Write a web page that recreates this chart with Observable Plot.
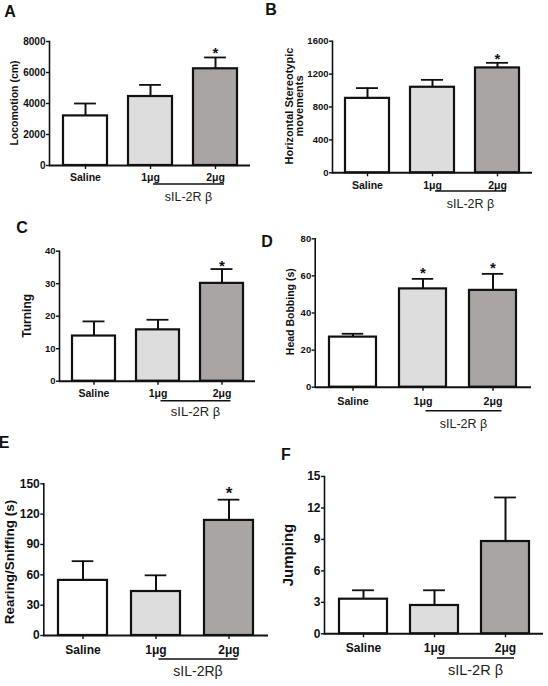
<!DOCTYPE html>
<html><head><meta charset="utf-8">
<script src="https://cdn.jsdelivr.net/npm/d3@7"></script>
<script src="https://cdn.jsdelivr.net/npm/@observablehq/plot@0.6"></script>
<style>
html,body{margin:0;padding:0;background:#fff;}
#fig{position:relative;width:548px;height:686px;overflow:hidden;background:#fff;}
</style></head><body><div id="fig"></div>
<script>
// ---- data ----
const groups = ["Saline", "1μg", "2μg"];
const groupFills = ["#ffffff", "#dddddd", "#aaa5a5"];
const panelLetters = ["A", "B", "C", "D", "E", "F"];
const yTitles = [["Locomotion (cm)"], ["Horizontal Stereotypic", "movements"], ["Turning"], ["Head Bobbing (s)"], ["Rearing/Sniffing (s)"], ["Jumping"]];
const treatmentLabels = ["sIL-2R β", "sIL-2R β", "sIL-2R β", "sIL-2R β", "sIL-2Rβ", "sIL-2R β"];

const locomotion = [3200, 4450, 6240];
const locomotionSem = [800, 750, 730];
const stereotypic = [905, 1040, 1275];
const stereotypicSem = [125, 90, 62];
const turning = [13.9, 15.8, 30.1];
const turningSem = [4.5, 3.1, 4.4];
const headBobbing = [27, 53, 52.2];
const headBobbingSem = [1.8, 5.4, 8.9];
const rearing = [54.5, 43.5, 113.8];
const rearingSem = [19, 16, 20.5];
const jumping = [3.3, 2.7, 8.8];
const jumpingSem = [0.85, 1.45, 4.2];

const starsA = [false, false, true];
const starsB = [false, false, true];
const starsC = [false, false, true];
const starsD = [false, true, true];
const starsE = [false, false, true];
const starsF = [false, false, false];

const yMaxes = [8000, 1600, 40, 80, 150, 15];
const yTicksA = [0, 2000, 4000, 6000, 8000];
const yTicksB = [0, 400, 800, 1200, 1600];
const yTicksC = [0, 10, 20, 30, 40];
const yTicksD = [0, 20, 40, 60, 80];
const yTicksE = [0, 30, 60, 90, 120, 150];
const yTicksF = [0, 3, 6, 9, 12, 15];

// ---- layout (page pixels) ----
const layouts = [
  {box: [0, 0, 274, 215], frame: [49, 250, 41, 165], letter: [10, 17], title: [13.5, 103], titleFont: 10.5, titleLh: 12, yTickFont: 10, xTickFont: 10.5, xPad: 4, ul: 19, labelDy: 17, labelFont: 12.5, starDy: 1, starFont: 15},
  {box: [264, 0, 284, 215], frame: [332, 532, 40.7, 172.3], letter: [271, 15], title: [294, 106], titleFont: 11, titleLh: 10.8, yTickFont: 9.5, xTickFont: 10.5, xPad: 4.5, ul: 18.7, labelDy: 17, labelFont: 12.5, starDy: 1, starFont: 15},
  {box: [0, 215, 264, 215], frame: [59, 255, 250.7, 380.7], letter: [22, 233], title: [27, 315.8], titleFont: 12, titleLh: 12, yTickFont: 9.5, xTickFont: 10.5, xPad: 4.5, ul: 20, labelDy: 15, labelFont: 13, starDy: 2, starFont: 15},
  {box: [262, 225, 286, 210], frame: [314.7, 531, 238.3, 386.7], letter: [267, 247], title: [290, 311.7], titleFont: 10.5, titleLh: 12, yTickFont: 9.5, xTickFont: 10.7, xPad: 6, ul: 24, labelDy: 17, labelFont: 12.5, starDy: -1, starFont: 15},
  {box: [0, 428, 274, 258], frame: [43.3, 268, 483.3, 635], letter: [4, 448], title: [9.5, 562], titleFont: 13.5, titleLh: 12, yTickFont: 12, xTickFont: 12, xPad: 5.5, ul: 24, labelDy: 17, labelFont: 14, starDy: -1, starFont: 17},
  {box: [274, 440, 274, 246], frame: [324, 543, 476, 633.3], letter: [286, 460], title: [287, 555], titleFont: 15, titleLh: 12, yTickFont: 12, xTickFont: 12, xPad: 6, ul: 24.7, labelDy: 17, labelFont: 14.5, starDy: 0, starFont: 17}
];

const values = [locomotion, stereotypic, turning, headBobbing, rearing, jumping];
const sems = [locomotionSem, stereotypicSem, turningSem, headBobbingSem, rearingSem, jumpingSem];
const stars = [starsA, starsB, starsC, starsD, starsE, starsF];
const yTicks = [yTicksA, yTicksB, yTicksC, yTicksD, yTicksE, yTicksF];

const fig = document.getElementById("fig");
const FONT = "'Liberation Sans', Arial, Helvetica, sans-serif";
const INK = "#111";

function drawPanel(k) {
  const L = layouts[k];
  const [bx, by, bw, bh] = L.box;
  const [FL, FR, FT, FB] = L.frame;
  const rows = groups.map((g, i) => ({
    group: g, mean: values[k][i], top: values[k][i] + sems[k][i], star: stars[k][i]
  }));
  const pi = 0.33, po = 0.19;
  const bandW = (FR - FL) * (1 - pi) / (groups.length - pi + 2 * po);
  const capInset = Math.max(0, (bandW - 22) / 2);

  const plot = Plot.plot({
    width: bw, height: bh,
    marginLeft: FL - bx, marginRight: bx + bw - FR,
    marginTop: FT - by, marginBottom: by + bh - FB,
    style: {fontFamily: FONT, fontWeight: "bold", background: "transparent", color: INK, overflow: "visible"},
    x: {domain: groups, paddingInner: pi, paddingOuter: po, label: null},
    y: {domain: [0, yMaxes[k]], label: null},
    color: {domain: groups, range: groupFills},
    marks: [
      Plot.barY(rows, {x: "group", y: "mean", fill: "group", stroke: INK, strokeWidth: 2.2}),
      Plot.ruleX(rows, {x: "group", y1: "mean", y2: "top", stroke: INK, strokeWidth: 2}),
      Plot.tickY(rows, {x: "group", y: "top", stroke: INK, strokeWidth: 1.8, insetLeft: capInset, insetRight: capInset}),
      Plot.text(rows.filter(d => d.star), {x: "group", y: "top", text: () => "*", dy: L.starDy, lineAnchor: "bottom", fontSize: L.starFont, fontWeight: "bold", fill: INK}),
      Plot.ruleY([0], {stroke: INK, strokeWidth: 2}),
      Plot.frame({anchor: "left", stroke: INK, strokeWidth: 1.6}),
      Plot.axisY({ticks: yTicks[k], tickSize: 3, tickPadding: 1, tickFormat: d3.format("d"), fontSize: L.yTickFont, label: null, stroke: INK, strokeWidth: 1.4}),
      Plot.axisX({tickSize: 4, tickPadding: L.xPad, fontSize: L.xTickFont, label: null, stroke: INK, strokeWidth: 1.4})
    ]
  });
  plot.style.position = "absolute";
  plot.style.left = bx + "px";
  plot.style.top = by + "px";
  plot.style.maxWidth = "none";

  const svg = d3.select(plot);
  // panel letter
  svg.append("text")
    .attr("x", L.letter[0] - bx).attr("y", L.letter[1] - by)
    .attr("font-family", FONT).attr("font-weight", "bold").attr("font-size", 16)
    .attr("fill", INK).text(panelLetters[k]);
  // y-axis title
  const lines = yTitles[k];
  lines.forEach((t, j) => {
    const cx = L.title[0] - bx + (j - (lines.length - 1) / 2) * L.titleLh;
    const cy = L.title[1] - by;
    svg.append("text")
      .attr("transform", `translate(${cx},${cy}) rotate(-90)`)
      .attr("text-anchor", "middle").attr("dominant-baseline", "central")
      .attr("font-family", FONT).attr("font-weight", "bold").attr("font-size", L.titleFont)
      .attr("fill", INK).text(t);
  });
  // treatment underline and label
  const xs = plot.scale("x");
  const c1 = xs.apply(groups[1]) + xs.bandwidth / 2;
  const c2 = xs.apply(groups[2]) + xs.bandwidth / 2;
  const yAxisPos = plot.scale("y").apply(0);
  const x1 = c1 + 3, x2 = c2 + 9;
  svg.append("line")
    .attr("x1", x1).attr("x2", x2)
    .attr("y1", yAxisPos + L.ul).attr("y2", yAxisPos + L.ul)
    .attr("stroke", INK).attr("stroke-width", 1.6);
  svg.append("text")
    .attr("x", (x1 + x2) / 2).attr("y", yAxisPos + L.ul + L.labelDy)
    .attr("text-anchor", "middle")
    .attr("font-family", FONT).attr("font-weight", "normal").attr("font-size", L.labelFont)
    .attr("fill", "#222").text(treatmentLabels[k]);

  fig.appendChild(plot);
}

for (let k = 0; k < 6; k++) drawPanel(k);
</script>
</body></html>
